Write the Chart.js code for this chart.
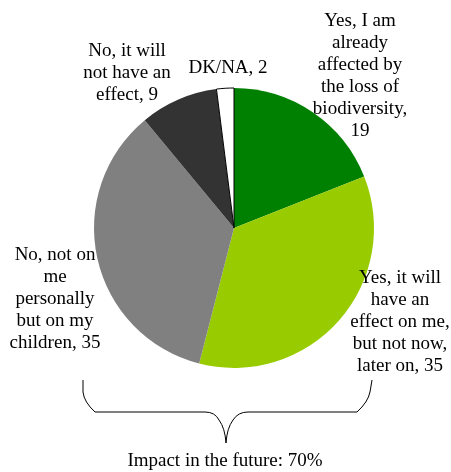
<!DOCTYPE html>
<html>
<head>
<meta charset="utf-8">
<script src="https://cdn.jsdelivr.net/npm/chart.js@4"></script>
<style>
  html, body { margin: 0; padding: 0; background: #fff; }
</style>
</head>
<body>
<canvas id="pieChart" width="451" height="472"></canvas>
<script>
// data
const categories = [
    'Yes, I am already affected by the loss of biodiversity',
    'Yes, it will have an effect on me, but not now, later on',
    'No, not on me personally but on my children',
    'No, it will not have an effect',
    'DK/NA'
];
const values = [19, 35, 35, 9, 2];
const sliceColors = ['#008000', '#99cc00', '#808080', '#333333', '#ffffff'];
const labelLines = [
    ['Yes, I am', 'already', 'affected by', 'the loss of', 'biodiversity,', '19'],
    ['Yes, it will', 'have an', 'effect on me,', 'but not now,', 'later on, 35'],
    ['No, not on', 'me', 'personally', 'but on my', 'children, 35'],
    ['No, it will', 'not have an', 'effect, 9'],
    ['DK/NA, 2']
];
const braceText = 'Impact in the future: 70%';

// where each label block sits (centre x, top of first line)
const labelPos = [
    {x: 360, y: 12},
    {x: 400, y: 269},
    {x: 55, y: 246},
    {x: 127, y: 42},
    {x: 228, y: 59}
];

// labels, brace and caption
const annotations = {
    id: 'annotations',
    afterDraw(chart) {
        const c = chart.ctx;
        c.save();
        c.fillStyle = '#000';
        c.font = '19px "Liberation Serif"';
        c.textAlign = 'center';
        c.textBaseline = 'top';
        labelLines.forEach(function(lines, i) {
            lines.forEach(function(line, j) {
                c.fillText(line, labelPos[i].x, labelPos[i].y + j * 22);
            });
        });

        // curly brace under the two "future" slices
        c.strokeStyle = '#000';
        c.lineWidth = 1;
        c.beginPath();
        c.moveTo(83, 380);
        c.lineTo(83, 392);
        c.quadraticCurveTo(84, 402, 95, 412);
        c.lineTo(205, 412);
        c.quadraticCurveTo(215, 412, 219, 420);
        c.quadraticCurveTo(225, 428, 226, 443);
        c.quadraticCurveTo(227, 428, 233, 420);
        c.quadraticCurveTo(238, 412, 248, 412);
        c.lineTo(357, 412);
        c.quadraticCurveTo(368, 402, 370, 392);
        c.lineTo(372, 380);
        c.stroke();

        c.fillText(braceText, 225, 452);
        c.restore();
    }
};

const ctx = document.getElementById('pieChart').getContext('2d');
new Chart(ctx, {
    type: 'pie',
    data: {
        labels: categories,
        datasets: [{
            data: values,
            backgroundColor: sliceColors,
            borderColor: '#000000',
            borderWidth: [0, 0, 0, 0, 1]
        }]
    },
    options: {
        responsive: false,
        animation: false,
        radius: 140,
        layout: {
            padding: {left: 94, right: 77, top: 88, bottom: 104}
        },
        plugins: {
            legend: {display: false},
            tooltip: {enabled: false}
        }
    },
    plugins: [annotations]
});
</script>
</body>
</html>
